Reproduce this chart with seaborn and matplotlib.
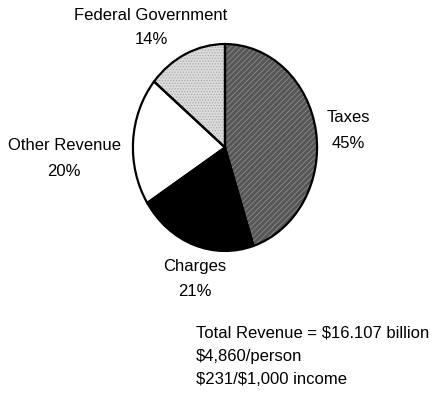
import matplotlib
matplotlib.use("Agg")
import matplotlib.pyplot as plt
import seaborn as sns

categories = ["Taxes", "Charges", "Other Revenue", "Federal Government"]
shares = [45, 21, 20, 14]
face_colors = ["#565656", "#000000", "#ffffff", "#dcdcdc"]
hatches = ["//////", None, None, "......"]
hatch_colors = ["#8c8c8c", "#000000", "#ffffff", "#a8a8a8"]
summary_lines = ["Total Revenue = $16.107 billion", "$4,860/person", "$231/$1,000 income"]

sns.set_theme(style="white")
plt.rcParams["font.family"] = ["Liberation Sans", "DejaVu Sans"]
plt.rcParams["hatch.linewidth"] = 0.6
plt.rcParams["text.parse_math"] = False

W, H = 433, 396
fig = plt.figure(figsize=(W / 100, H / 100), dpi=100)
fig.patch.set_facecolor("white")

def fx(px):
    return px / W

def fy(py):
    return 1 - py / H

left, right, top, bottom = 132, 318, 43, 252
ax = fig.add_axes([fx(left), fy(bottom), (right - left) / W, (bottom - top) / H])

# textured fill layer
wedges, _ = ax.pie(shares, startangle=90, counterclock=False, colors=face_colors,
                   wedgeprops=dict(linewidth=0))
for w, h, hc in zip(wedges, hatches, hatch_colors):
    if h:
        w.set_hatch(h)
        w.set_edgecolor(hc)
        w.set_linewidth(0)
# outline layer
outl, _ = ax.pie(shares, startangle=90, counterclock=False,
                 wedgeprops=dict(fill=False, edgecolor="black", linewidth=1.6))
ax.set_aspect("auto")
ax.set_xlim(-1.01, 1.01)
ax.set_ylim(-1.01, 1.01)
ax.axis("off")

fs = 12
label_pos = {
    "Federal Government": (151, 15, 40),
    "Taxes": (348, 118, 143),
    "Other Revenue": (64, 145, 171),
    "Charges": (195, 266, 291),
}
for cat, val in zip(categories, shares):
    x, y1, y2 = label_pos[cat]
    fig.text(fx(x), fy(y1), cat, ha="center", va="center", fontsize=fs, color="black",
             parse_math=False)
    fig.text(fx(x), fy(y2), f"{val}%", ha="center", va="center", fontsize=fs, color="black",
             parse_math=False)

for i, line in enumerate(summary_lines):
    fig.text(fx(196), fy(333 + 23.5 * i), line, ha="left", va="center", fontsize=fs,
             color="black", parse_math=False)

fig.savefig("out.png", dpi=100, facecolor="white")
